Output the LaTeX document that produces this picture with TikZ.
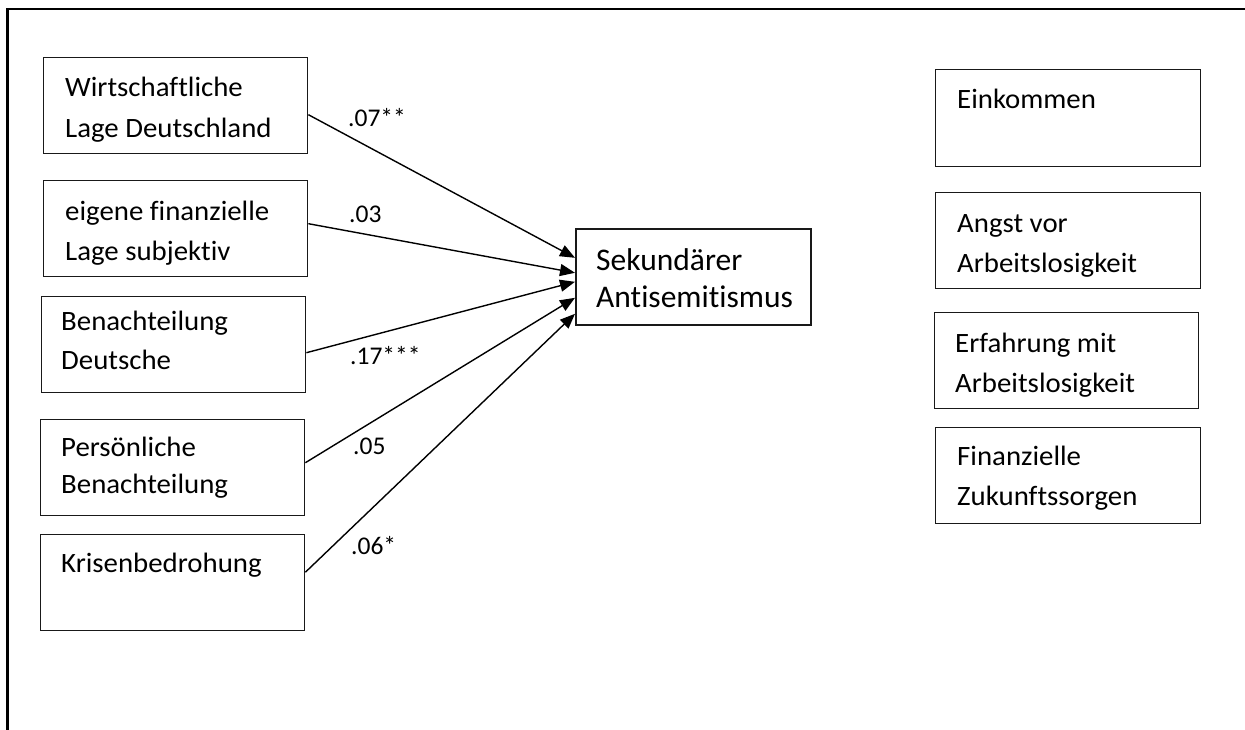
\documentclass[tikz,border=0pt]{standalone}
\usepackage{fontspec}
\setmainfont{Carlito}[Ligatures={NoCommon,NoRare,NoContextual}]
\newfontfamily\boxfont{Carlito}[FakeStretch=1.03,Ligatures={NoCommon,NoRare,NoContextual}]
\usetikzlibrary{arrows.meta}
\tikzset{
  frameline/.style={line width=2.4pt, line cap=rect},
  varbox/.style={draw=black!90, line width=1.4pt, anchor=north west, inner sep=0pt,
                 minimum width=264pt, minimum height=96pt},
  targetbox/.style={draw=black!90, line width=1.6pt, anchor=north west, inner sep=0pt,
                 minimum width=235pt, minimum height=96pt},
  boxtext/.style={anchor=base west, align=left, inner sep=0pt,
                  font=\boxfont\fontsize{28}{40}\selectfont},
  targettext/.style={anchor=base west, align=left, inner sep=0pt,
                  font=\fontsize{31.5}{37}\selectfont},
  coef/.style={anchor=base west, inner sep=0pt, font=\fontsize{25.5}{30}\selectfont},
  effect/.style={line width=1.4pt, -{Triangle[length=15pt,width=12pt]}}
}
\begin{document}
\begin{tikzpicture}[x=1pt,y=-1pt]
\useasboundingbox (0,0) rectangle (1245,729);

% outer frame (only the left and top edges fall inside the page)
\draw[frameline] (7.5,740) -- (7.5,9) -- (1250,9);

% predictors
\node[varbox] (wl) at (43,57) {};
\node[varbox] (ef) at (43,180) {};
\node[varbox] (bd) at (41,296) {};
\node[varbox] (pb) at (40,419) {};
\node[varbox] (kb) at (40,534) {};

% text anchors sit on the baseline of the last line
\node[boxtext, font=\boxfont\fontsize{28}{41}\selectfont] (wlt) at (65,137) {Wirtschaftliche\\Lage Deutschland};
\node[boxtext] (eft) at (65,260) {eigene finanzielle\\Lage subjektiv};
\node[boxtext, font=\boxfont\fontsize{28}{39}\selectfont] (bdt) at (61,369) {Benachteilung\\Deutsche};
\node[boxtext, font=\boxfont\fontsize{28}{37}\selectfont] (pbt) at (61,493) {Persönliche\\Benachteilung};
\node[boxtext] (kbt) at (61,572) {Krisenbedrohung};

% outcome
\node[targetbox] (sa) at (575,228) {};
\node[targettext] (sat) at (596,307) {Sekundärer\\Antisemitismus};

% further variables
\node[varbox, minimum width=265pt, minimum height=97pt] (ek) at (935,69) {};
\node[varbox, minimum width=265pt] (aa) at (935,192) {};
\node[varbox, minimum width=264pt] (ea) at (934,312) {};
\node[varbox, minimum width=265pt] (fz) at (935,427) {};

\node[boxtext] (ekt) at (957,108) {Einkommen};
\node[boxtext] (aat) at (957,272) {Angst vor\\Arbeitslosigkeit};
\node[boxtext] (eat) at (955,392) {Erfahrung mit\\Arbeitslosigkeit};
\node[boxtext] (fzt) at (957,505) {Finanzielle\\Zukunftssorgen};

% paths
\draw[effect] ([yshift=-9pt]wl.east) -- ([yshift=19pt]sa.west);
\draw[effect] ([yshift=5pt]ef.east) -- ([yshift=4pt]sa.west);
\draw[effect] ([yshift=-8pt]bd.east) -- ([yshift=-5pt]sa.west);
\draw[effect] ([yshift=5pt]pb.east) -- ([yshift=-21pt]sa.west);
\draw[effect] ([yshift=10.5pt]kb.east) -- ([yshift=-37pt]sa.west);

% coefficients
\node[coef] (c1) at (348,126) {.07**};
\node[coef] (c2) at (349,222) {.03};
\node[coef] (c3) at (350,364) {.17***};
\node[coef] (c4) at (353,454) {.05};
\node[coef] (c5) at (351,554) {.06*};
\end{tikzpicture}
\end{document}
